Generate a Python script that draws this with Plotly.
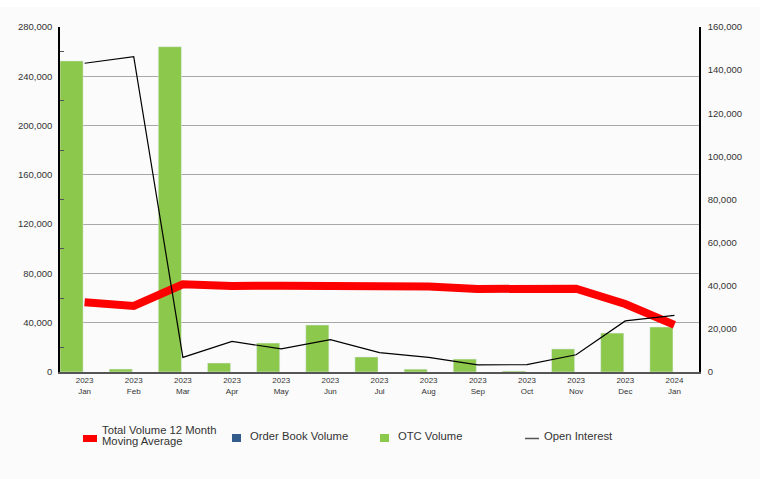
import plotly.graph_objects as go

# Monthly data, Jan 2023 - Jan 2024
months = ['2023<br>Jan', '2023<br>Feb', '2023<br>Mar', '2023<br>Apr', '2023<br>May',
          '2023<br>Jun', '2023<br>Jul', '2023<br>Aug', '2023<br>Sep', '2023<br>Oct',
          '2023<br>Nov', '2023<br>Dec', '2024<br>Jan']
otc_volume = [252500, 2400, 264000, 7300, 23500, 38100, 12200, 2300, 10500, 800,
              18700, 31600, 36500]
order_book_volume = [0, 0, 0, 0, 0, 0, 0, 0, 0, 0, 0, 0, 0]
moving_avg_12m = [56600, 53600, 71200, 69800, 70100, 70200, 69800, 69300, 67400,
                  67100, 67600, 55200, 38200]
open_interest = [143200, 146200, 6800, 14200, 10700, 15000, 9000, 6800, 3300, 3400,
                 8000, 23700, 26300]

GREEN = '#8cc84b'
BLUE = '#335c8c'
RED = '#ff0000'
FONT = 'Liberation Sans, Arial, sans-serif'

W, H = 760, 479
ML, MR, MT, MB = 60, 61, 27, 107
PW, PH = W - ML - MR, H - MT - MB


def px_x(px):
    # pixel -> coordonnée paper
    return (px - ML) / PW


def px_y(py):
    return (H - MB - py) / PH


x = list(range(len(months)))

fig = go.Figure()

# Barres (décalées à gauche du centre de catégorie)
fig.add_trace(go.Bar(x=x, y=order_book_volume, marker_color=BLUE, offset=-0.5,
                     width=0.47, name='Order Book Volume'))
fig.add_trace(go.Bar(x=x, y=otc_volume, marker_color=GREEN, offset=-0.5,
                     width=0.47, name='OTC Volume'))

# Moyenne mobile 12 mois
fig.add_trace(go.Scatter(x=x, y=moving_avg_12m, mode='lines',
                         name='Total Volume 12 Month Moving Average',
                         line=dict(color=RED, width=8)))

# Open interest (axe droit)
fig.add_trace(go.Scatter(x=x, y=open_interest, mode='lines', yaxis='y2',
                         name='Open Interest',
                         line=dict(color='black', width=1.2)))

# Légende dessinée à la main
def rect(x0, x1, y0, y1, color):
    return dict(type='rect', xref='paper', yref='paper',
                x0=px_x(x0), x1=px_x(x1), y0=px_y(y1), y1=px_y(y0),
                fillcolor=color, line=dict(width=0))


shapes = [
    dict(type='rect', xref='paper', yref='paper',
         x0=-0.2, x1=1.2, y0=px_y(7), y1=px_y(-5),
         fillcolor='white', line=dict(width=0), layer='below'),
    rect(83, 97, 435, 442, RED),
    rect(232, 241, 434, 442, BLUE),
    rect(380, 389, 434, 442, GREEN),
    dict(type='line', xref='paper', yref='paper',
         x0=px_x(525), x1=px_x(539), y0=px_y(438.5), y1=px_y(438.5),
         line=dict(color='#555555', width=1.5)),
]
labels = [
    ('Total Volume 12 Month', 100, 429.5),
    ('Moving Average', 100, 441),
    ('Order Book Volume', 247.5, 436),
    ('OTC Volume', 395.5, 436),
    ('Open Interest', 541.5, 436),
]
annotations = [
    dict(text=t, x=px_x(px), y=px_y(py), xref='paper', yref='paper',
         xanchor='left', yanchor='middle', align='left', showarrow=False,
         font=dict(size=11.25, color='#333333'))
    for t, px, py in labels
]

fig.update_layout(
    width=W, height=H,
    margin=dict(l=ML, r=MR, t=MT, b=MB),
    paper_bgcolor='#fbfbfb',
    plot_bgcolor='#fbfbfb',
    barmode='overlay',
    showlegend=False,
    font=dict(family=FONT, size=10, color='#333333'),
    xaxis=dict(
        type='linear', range=[-0.5, 12.5],
        tickvals=x, ticktext=months, tickfont=dict(size=8),
        showgrid=False, zeroline=False,
        showline=True, linecolor='#555555', linewidth=1.5,
        ticks='',
    ),
    yaxis=dict(
        range=[0, 280000], dtick=40000, tickformat=',',
        gridcolor='#a8a8a8', gridwidth=1, zeroline=False,
        showline=True, linecolor='black', linewidth=1.5,
        ticks='', tickfont=dict(size=9.5), ticklabelstandoff=4,
        minor=dict(dtick=20000, ticks='inside', ticklen=4,
                   tickcolor='#555555', showgrid=False),
    ),
    yaxis2=dict(
        overlaying='y', side='right',
        range=[0, 160000], dtick=20000, tickformat=',',
        showgrid=False, zeroline=False,
        showline=True, linecolor='black', linewidth=1.5,
        ticks='', tickfont=dict(size=9.5), ticklabelstandoff=5,
    ),
    shapes=shapes,
    annotations=annotations,
)

fig.write_html("out.html", config={'displayModeBar': False},
               post_script="document.body.style.margin='0';")
